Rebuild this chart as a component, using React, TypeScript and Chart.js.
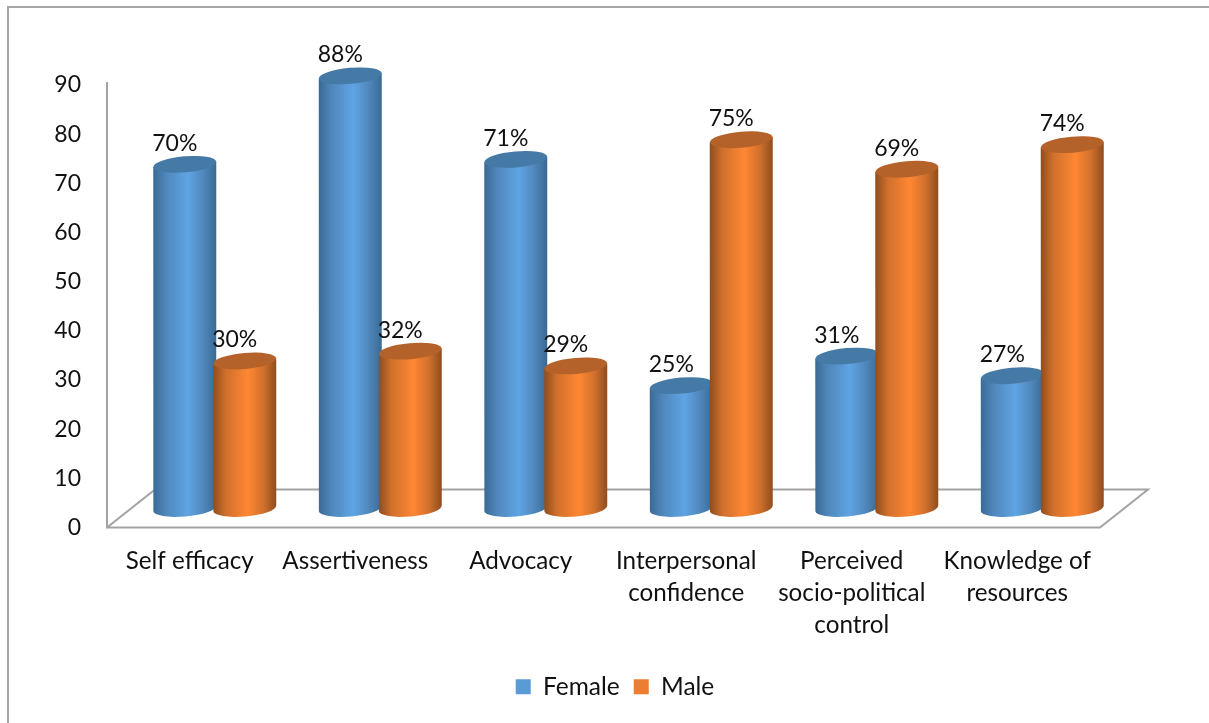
import React, { useEffect, useRef } from "react";
import { Chart, registerables } from "chart.js";

Chart.register(...registerables);

const categories = [
  "Self efficacy",
  "Assertiveness",
  "Advocacy",
  ["Interpersonal", "confidence"],
  ["Perceived", "socio-political", "control"],
  ["Knowledge of", "resources"],
];
const femaleValues = [70, 88, 71, 25, 31, 27];
const maleValues = [30, 32, 29, 75, 69, 74];
const yTickMax = 90;

const FONT = "Lato, 'Open Sans', sans-serif";
const WORD_SIZE = 24.2;
const DIGIT_SIZE = 23;
const AXIS_GRAY = "#a3a3a3";

const palettes = [
  { edge: "#3a6a94", shade: "#4f87bb", mid: "#5fa4e4", top: "#457aa6", label: "#5b9bd5" },
  { edge: "#8f4d1e", shade: "#d0702c", mid: "#ff8733", top: "#b5622a", label: "#ed7d31" },
];

const cylinderPlugin = {
  id: "cylinders",
  afterLayout(chart: any) {
    // the legend sits under the whole plot, including the floor's depth
    const shift = 65;
    chart.legend.left += shift;
    chart.legend.right += shift;
  },
  beforeDatasetsDraw(chart: any) {
    const { ctx, chartArea: a } = chart;
    const floorDx = 48;
    const floorDy = -38;
    const wallOver = 3;
    const barDx = 25;
    const barDy = -19;
    const ry = 8;
    const tilt = (-5 * Math.PI) / 180;

    ctx.save();
    ctx.strokeStyle = AXIS_GRAY;
    ctx.lineWidth = 2;
    ctx.beginPath();
    ctx.moveTo(a.left, a.top - wallOver);
    ctx.lineTo(a.left, a.bottom);
    ctx.lineTo(a.right, a.bottom);
    ctx.lineTo(a.right + floorDx, a.bottom + floorDy);
    ctx.lineTo(a.left + floorDx, a.bottom + floorDy);
    ctx.lineTo(a.left, a.bottom);
    ctx.stroke();
    ctx.restore();

    chart.data.datasets.forEach((_: any, di: number) => {
      const meta = chart.getDatasetMeta(di);
      const p = palettes[di];
      meta.data.forEach((el: any) => {
        const w = el.width + 3;
        const rx = w / 2;
        const cx = el.x + barDx;
        const yTop = el.y + barDy;
        const yBase = el.base + barDy;
        const dy = Math.sin(tilt) * rx;
        const left = cx - rx;
        const right = cx + rx;
        const g = ctx.createLinearGradient(left, 0, right, 0);
        g.addColorStop(0, p.edge);
        g.addColorStop(0.2, p.shade);
        g.addColorStop(0.55, p.mid);
        g.addColorStop(0.8, p.shade);
        g.addColorStop(1, p.edge);
        ctx.save();
        ctx.fillStyle = g;
        ctx.beginPath();
        ctx.moveTo(left, yTop - dy);
        ctx.lineTo(right, yTop + dy);
        ctx.lineTo(right, yBase + dy);
        ctx.ellipse(cx, yBase, rx, ry, tilt, 0, Math.PI, false);
        ctx.closePath();
        ctx.fill();
        ctx.fillStyle = p.top;
        ctx.beginPath();
        ctx.ellipse(cx, yTop, rx, ry, tilt, 0, Math.PI * 2);
        ctx.fill();
        ctx.restore();
      });
    });

    ctx.save();
    ctx.font = `${DIGIT_SIZE}px ${FONT}`;
    ctx.fillStyle = "#111111";
    ctx.textAlign = "center";
    ctx.textBaseline = "middle";
    chart.data.datasets.forEach((ds: any, di: number) => {
      chart.getDatasetMeta(di).data.forEach((el: any, i: number) => {
        ctx.fillText(`${ds.data[i]}%`, el.x + barDx - 10, el.y + barDy - 21);
      });
    });
    ctx.restore();
    return false;
  },
};

export default function App() {
  const ref = useRef<HTMLCanvasElement | null>(null);
  useEffect(() => {
    const chart = new Chart(ref.current as HTMLCanvasElement, {
      type: "bar",
      data: {
        labels: categories as any,
        datasets: [
          { label: "Female", data: femaleValues, backgroundColor: palettes[0].label },
          { label: "Male", data: maleValues, backgroundColor: palettes[1].label },
        ],
      },
      plugins: [cylinderPlugin as any],
      options: {
        responsive: false,
        animation: false,
        categoryPercentage: 0.725,
        barPercentage: 1,
        layout: { padding: { top: 85, left: 0, right: 109, bottom: 14 } },
        plugins: {
          tooltip: { enabled: false },
          legend: {
            position: "bottom",
            labels: {
              boxWidth: 15,
              boxHeight: 15,
              padding: 14,
              color: "#111111",
              font: { family: FONT, size: 24.5 },
            },
          },
        },
        scales: {
          x: {
            grid: { display: false, drawTicks: false },
            border: { display: false },
            afterFit: (s: any) => {
              s.height = 133;
            },
            ticks: {
              color: "#111111",
              maxRotation: 0,
              autoSkip: false,
              padding: 18,
              font: { family: FONT, size: WORD_SIZE, lineHeight: 32 / WORD_SIZE },
            },
          },
          y: {
            min: 0,
            max: yTickMax,
            grid: { display: false, drawTicks: false },
            border: { display: false },
            afterFit: (s: any) => {
              s.width = 107;
            },
            ticks: {
              stepSize: 10,
              color: "#111111",
              padding: 26,
              font: { family: FONT, size: DIGIT_SIZE },
            },
          },
        },
      } as any,
    });
    return () => chart.destroy();
  }, []);
  return (
    <div style={{ position: "fixed", inset: 0, overflow: "hidden", background: "#fff" }}>
      <div
        style={{
          position: "absolute",
          left: 7,
          top: 6,
          right: 0,
          bottom: 0,
          borderLeft: "2px solid #a6a6a6",
          borderTop: "2px solid #a6a6a6",
        }}
      />
      <canvas
        ref={ref}
        width={1209}
        height={723}
        style={{ position: "absolute", left: 0, top: 0, display: "block" }}
      />
    </div>
  );
}
